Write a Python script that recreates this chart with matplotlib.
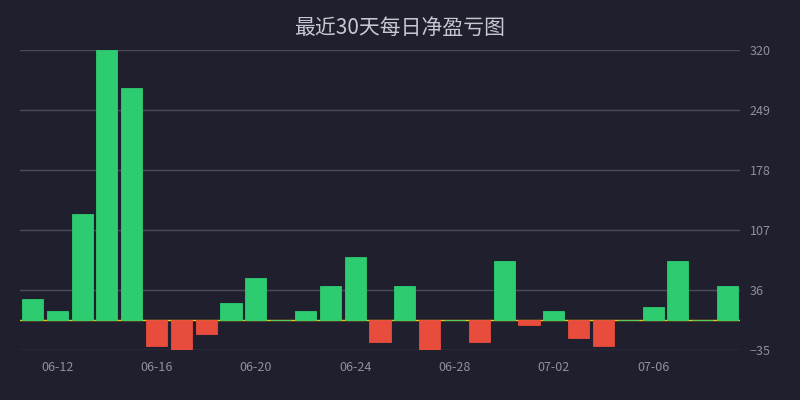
import matplotlib
matplotlib.use("Agg")
import matplotlib.pyplot as plt
import numpy as np

dates = ["06-11", "06-12", "06-13", "06-14", "06-15", "06-16", "06-17", "06-18",
         "06-19", "06-20", "06-21", "06-22", "06-23", "06-24", "06-25", "06-26",
         "06-27", "06-28", "06-29", "06-30", "07-01", "07-02", "07-03", "07-04",
         "07-05", "07-06", "07-07", "07-08", "07-09"]
pnl = [25.3, 11.1, 125.9, 320, 275, -30.3, -35, -16.1,
       20.6, 50.2, 0, 11.1, 40.7, 75, -25.6, 40.7,
       -35, 0, -25.6, 70.3, -5.4, 11.1, -20.8, -30.3,
       0, 15.9, 70.3, 0, 40.7]
yticks = [-35, 36, 107, 178, 249, 320]
xlabels_shown = ["06-12", "06-16", "06-20", "06-24", "06-28", "07-02", "07-06"]
title = "最近30天每日净盈亏图"

plt.rcParams['font.family'] = ['Noto Sans CJK SC', 'DejaVu Sans']

bg = "#1f1f2e"
green = "#2ecc71"
red = "#e74c3c"

fig = plt.figure(figsize=(8, 4), dpi=100, facecolor=bg)
ax = fig.add_axes([0.025, 0.125, 0.9, 0.75], facecolor=bg)

x = np.arange(len(pnl))
colors = [green if v >= 0 else red for v in pnl]
ax.axhline(0, color="#f1c40f", lw=1.0, zorder=2)
ax.bar(x, pnl, width=0.85, color=colors, edgecolor=colors, linewidth=0.6, zorder=3)

ax.set_xlim(-0.5, len(pnl) - 0.5)
ax.set_ylim(yticks[0] - 0.3, yticks[-1])
ax.set_yticks(yticks)
ax.yaxis.tick_right()
ax.grid(axis="y", color="#4a4a5a", lw=1.0, zorder=0)
ax.set_axisbelow(True)
ax.tick_params(axis="y", length=0, pad=7, labelsize=9, labelcolor="#8f8f9e")
idx = [dates.index(d) for d in xlabels_shown]
ax.set_xticks(idx)
ax.set_xticklabels(xlabels_shown)
ax.tick_params(axis="x", length=0, pad=8, labelsize=9, labelcolor="#8f8f9e")
for s in ax.spines.values():
    s.set_visible(False)

fig.text(0.5, 0.93, title, ha="center", va="center", fontsize=15,
         color="#c8c8d0", fontweight="light")

fig.savefig("out.png", dpi=100, facecolor=bg)
